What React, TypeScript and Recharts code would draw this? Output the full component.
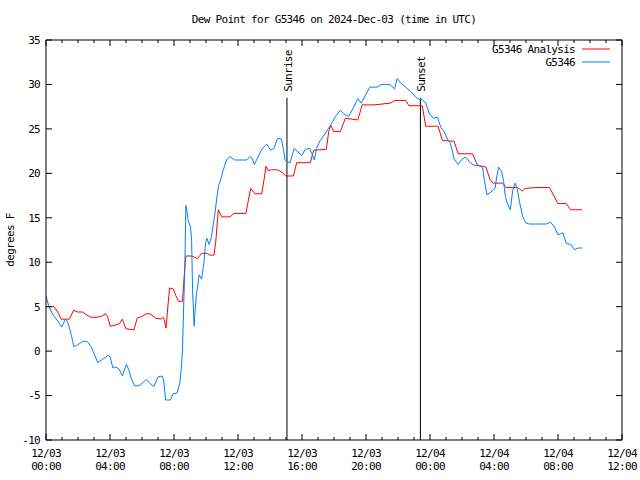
import { Customized, Line, LineChart, ReferenceLine, XAxis, YAxis } from "recharts";

// G5346 Analysis (red), hours since 12/03 00:00 UTC
const analysisHours = [
  0, 0.5, 0.73, 0.94, 1.46, 1.73, 1.98, 2.3, 2.5, 2.82, 3.13, 3.45, 3.72, 3.85, 4.01, 4.28, 4.6, 4.77,
  5.0, 5.5, 5.7, 6.0, 6.27, 6.5, 6.86, 7.17, 7.35, 7.5, 7.72, 7.95, 8.1, 8.28, 8.53, 8.6, 8.68, 8.74,
  9.1, 9.47, 9.72, 10.1, 10.2, 10.5, 10.62, 10.77, 10.98, 11.5, 11.75, 12.5, 12.65, 12.8, 13.06, 13.48,
  13.62, 13.75, 13.88, 14.08, 14.46, 14.77, 14.98, 15.46, 15.67, 16.52, 16.73, 17.52, 17.67, 17.8, 17.98,
  18.4, 18.71, 19.49, 19.76, 20.5, 21.54, 21.79, 22.48, 22.69, 23.52, 23.73, 24.5, 24.78, 25.51, 25.76,
  26.66, 26.97, 27.5, 27.75, 27.95, 28.54, 28.75, 29.48, 29.76, 29.95, 30.63, 31.47, 31.99, 32.52, 32.79,
  33.5,
];
const analysisValues = [
  5.0, 5.0, 4.4, 3.6, 3.6, 4.6, 4.4, 4.4, 4.1, 3.8, 3.8, 3.9, 4.2, 3.9, 2.8, 2.9, 3.1, 3.6,
  2.5, 2.4, 3.7, 3.9, 4.2, 4.2, 3.7, 3.6, 3.8, 2.6, 7.1, 7.0, 6.3, 5.6, 5.6, 7.5, 9.5, 10.7,
  10.7, 10.4, 11.0, 11.0, 10.8, 10.8, 12.5, 15.9, 15.1, 15.1, 15.5, 15.5, 17.0, 18.3, 17.7, 17.7,
  19.2, 20.8, 20.3, 20.4, 20.4, 20.1, 19.7, 19.7, 21.2, 21.2, 22.6, 22.7, 24.7, 25.4, 24.7,
  24.7, 26.2, 26.0, 27.7, 27.7, 27.9, 28.2, 28.2, 27.6, 27.6, 25.3, 25.3, 23.7, 23.6, 22.2,
  22.2, 20.9, 20.7, 19.3, 18.9, 18.9, 18.4, 18.4, 18.0, 18.3, 18.4, 18.4, 16.6, 16.6, 15.9,
  15.9,
];

// G5346 station (blue)
const stationHours = [
  0, 0.17, 0.42, 0.73, 0.98, 1.21, 1.35, 1.5, 1.67, 1.73, 1.98, 2.3, 2.57, 2.82, 3.03, 3.24, 3.55, 3.87,
  4.0, 4.18, 4.35, 4.56, 4.77, 5.02, 5.18, 5.33, 5.54, 5.81, 6.27, 6.48, 6.73, 7.0, 7.25, 7.35, 7.48,
  7.78, 7.94, 8.2, 8.36, 8.45, 8.53, 8.6, 8.68, 8.74, 8.8, 8.88, 9.03, 9.1, 9.16, 9.26, 9.3, 9.41, 9.5,
  9.57, 9.72, 9.87, 9.97, 10.05, 10.2, 10.35, 10.45, 10.56, 10.66, 10.77, 10.94, 11.08, 11.29, 11.5,
  11.77, 12.54, 12.75, 12.88, 13.02, 13.27, 13.48, 13.79, 13.9, 14.04, 14.25, 14.46, 14.71, 14.83,
  14.94, 15.08, 15.25, 15.51, 15.75, 15.99, 16.2, 16.48, 16.62, 16.77, 16.9, 17.14, 17.46, 17.67,
  17.88, 18.09, 18.4, 18.6, 18.92, 19.24, 19.49, 19.7, 19.97, 20.24, 20.7, 20.95, 21.49, 21.79, 21.95,
  22.2, 22.48, 22.79, 23.11, 23.32, 23.52, 23.73, 23.94, 24.21, 24.47, 24.67, 24.88, 25.13, 25.25,
  25.41, 25.51, 25.76, 25.95, 26.18, 26.3, 26.51, 26.76, 27.05, 27.29, 27.4, 27.56, 27.81, 28.06,
  28.19, 28.29, 28.48, 28.6, 28.71, 28.86, 29.02, 29.17, 29.32, 29.45, 29.59, 29.8, 30.0, 30.22,
  31.26, 31.53, 31.78, 31.99, 32.31, 32.52, 32.79, 33.04, 33.25, 33.5,
];
const stationValues = [
  6.2, 5.1, 4.1, 3.4, 2.7, 3.6, 3.3, 2.4, 1.1, 0.5, 0.7, 1.1, 1.1, 0.5, -0.4, -1.3, -0.9, -0.5,
  -0.6, -1.9, -1.8, -2.0, -2.8, -1.5, -2.1, -3.1, -3.9, -3.9, -3.2, -3.6, -4.0, -2.9, -2.8, -3.2, -5.5,
  -5.5, -4.8, -4.7, -3.6, -2.1, 0.2, 4.8, 9.5, 16.4, 15.9, 14.7, 14.0, 12.5, 6.9, 2.8, 4.2, 6.5, 7.6,
  8.6, 8.1, 9.9, 12.1, 12.7, 12.0, 12.9, 14.2, 15.5, 17.0, 18.5, 19.4, 20.4, 21.5, 21.9,
  21.5, 21.5, 21.9, 21.7, 21.0, 21.9, 22.7, 23.3, 23.0, 22.6, 22.8, 23.9, 23.9, 22.8,
  21.5, 21.3, 21.2, 22.8, 22.4, 22.0, 22.7, 22.8, 22.2, 21.5, 22.8, 23.7, 24.5, 25.1,
  25.7, 26.4, 27.1, 26.7, 26.4, 27.5, 28.4, 27.9, 28.8, 29.7, 29.7, 30.0, 30.0, 29.5, 30.7,
  30.1, 29.7, 29.2, 28.6, 28.3, 28.3, 27.9, 26.8, 26.2, 26.3, 25.2, 24.7, 23.7, 23.5,
  22.4, 21.6, 21.0, 21.5, 21.8, 21.7, 21.2, 20.9, 20.9, 20.6, 19.2, 17.6, 17.9, 18.3,
  19.8, 20.7, 20.2, 19.1, 17.4, 16.5, 15.9, 18.1, 18.9, 18.3, 16.8, 15.1, 14.4, 14.3,
  14.3, 14.5, 14.0, 13.1, 13.3, 12.1, 12.0, 11.4, 11.6, 11.6,
];

const hourTicks = [
  0, 1, 2, 3, 4, 5, 6, 7, 8, 9, 10, 11, 12, 13, 14, 15, 16, 17, 18,
  19, 20, 21, 22, 23, 24, 25, 26, 27, 28, 29, 30, 31, 32, 33, 34, 35, 36,
];
const dateLabels = ["12/03", "12/03", "12/03", "12/03", "12/03", "12/03", "12/04", "12/04", "12/04", "12/04"];
const timeLabels = ["00:00", "04:00", "08:00", "12:00", "16:00", "20:00", "00:00", "04:00", "08:00", "12:00"];
const yTicks = [-10, -5, 0, 5, 10, 15, 20, 25, 30, 35];

const sunriseHour = 15.06;
const sunsetHour = 23.4;
const sunLineTop = 28.5;

const analysisData = analysisHours.map((h, i) => ({ h, v: analysisValues[i] }));
const stationData = stationHours.map((h, i) => ({ h, v: stationValues[i] }));

const FONT = "'DejaVu Sans Mono', monospace";
const textProps = { fontFamily: FONT, fontSize: 11, letterSpacing: -0.7, fill: "#000" };
const RED = "#ff0000";
const BLUE = "#0080ff";

const BottomTick = ({ x, y, payload }: any) => {
  const h = payload.value;
  const major = h % 4 === 0;
  const i = h / 4;
  return (
    <g>
      <line x1={x} x2={x} y1={y} y2={y - (major ? 6 : 3)} stroke="#000" />
      {major && (
        <text x={x} y={y} textAnchor="middle" {...textProps}>
          <tspan x={x} dy={17}>{dateLabels[i]}</tspan>
          <tspan x={x} dy={13}>{timeLabels[i]}</tspan>
        </text>
      )}
    </g>
  );
};

const TopTick = ({ x, y, payload }: any) => {
  const major = payload.value % 4 === 0;
  return <line x1={x} x2={x} y1={y} y2={y + (major ? 6 : 3)} stroke="#000" />;
};

const LeftTick = ({ x, y, payload }: any) => (
  <g>
    <line x1={x} x2={x + 6} y1={y} y2={y} stroke="#000" />
    <text x={x - 6} y={y} dy="0.35em" textAnchor="end" {...textProps}>
      {payload.value}
    </text>
  </g>
);

const RightTick = ({ x, y }: any) => <line x1={x} x2={x - 6} y1={y} y2={y} stroke="#000" />;

const sunShape = (label: string) => (p: any) => {
  const top = Math.min(p.y1, p.y2);
  const tx = p.x1 + 5;
  const ty = top - 6;
  return (
    <g>
      <line x1={p.x1} y1={p.y1} x2={p.x2} y2={p.y2} stroke="#000" strokeWidth={1} />
      <text x={tx} y={ty} transform={`rotate(-90 ${tx} ${ty})`} textAnchor="start" {...textProps}>
        {label}
      </text>
    </g>
  );
};

const Overlay = () => (
  <g>
    <text x={334} y={23} textAnchor="middle" {...textProps}>
      Dew Point for G5346 on 2024-Dec-03 (time in UTC)
    </text>
    <text x={14} y={240} transform="rotate(-90 14 240)" textAnchor="middle" {...textProps}>
      degrees F
    </text>
    <text x={575} y={49} dy="0.35em" textAnchor="end" {...textProps}>
      G5346 Analysis
    </text>
    <line x1={582} x2={610} y1={49} y2={49} stroke={RED} />
    <text x={575} y={62} dy="0.35em" textAnchor="end" {...textProps}>
      G5346
    </text>
    <line x1={582} x2={610} y1={62} y2={62} stroke={BLUE} />
  </g>
);

const axisCommon = {
  type: "number" as const,
  interval: 0 as const,
  tickSize: 0,
  tickMargin: 0,
  tickLine: false,
  axisLine: { stroke: "#000" },
  allowDataOverflow: true,
};

export default function App() {
  return (
    <div style={{ position: "absolute", left: 0, top: 0, width: 640, height: 480, background: "#fff" }}>
      <LineChart width={640} height={480} margin={{ top: 39, right: 17, bottom: 39, left: 45 }}>
        <XAxis
          {...axisCommon}
          xAxisId="bottom"
          dataKey="h"
          domain={[0, 36]}
          ticks={hourTicks}
          height={1}
          tick={BottomTick}
        />
        <XAxis
          {...axisCommon}
          xAxisId="top"
          orientation="top"
          dataKey="h"
          domain={[0, 36]}
          ticks={hourTicks}
          height={1}
          tick={TopTick}
        />
        <YAxis {...axisCommon} yAxisId="left" domain={[-10, 35]} ticks={yTicks} width={1} tick={LeftTick} />
        <YAxis
          {...axisCommon}
          yAxisId="right"
          orientation="right"
          domain={[-10, 35]}
          ticks={yTicks}
          width={1}
          tick={RightTick}
        />
        <ReferenceLine
          xAxisId="bottom"
          yAxisId="left"
          segment={[{ x: sunriseHour, y: -10 }, { x: sunriseHour, y: sunLineTop }]}
          shape={sunShape("Sunrise")}
        />
        <ReferenceLine
          xAxisId="bottom"
          yAxisId="left"
          segment={[{ x: sunsetHour, y: -10 }, { x: sunsetHour, y: sunLineTop }]}
          shape={sunShape("Sunset")}
        />
        <Line
          xAxisId="bottom"
          yAxisId="left"
          data={analysisData}
          dataKey="v"
          type="linear"
          stroke={RED}
          strokeWidth={1}
          dot={false}
          isAnimationActive={false}
        />
        <Line
          xAxisId="bottom"
          yAxisId="left"
          data={stationData}
          dataKey="v"
          type="linear"
          stroke={BLUE}
          strokeWidth={1}
          dot={false}
          isAnimationActive={false}
        />
        <Customized component={Overlay} />
      </LineChart>
    </div>
  );
}
